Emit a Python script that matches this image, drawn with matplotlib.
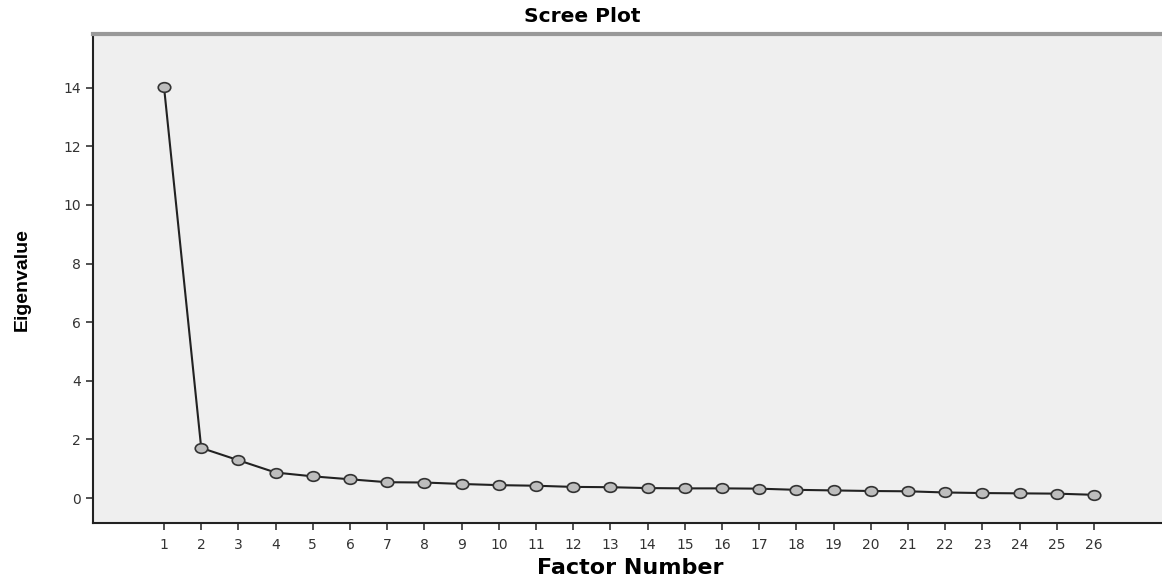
import matplotlib
matplotlib.use("Agg")
import matplotlib.pyplot as plt
from matplotlib.path import Path

factors = list(range(1, 27))
eigenvalues = [14.03, 1.71, 1.29, 0.87, 0.74, 0.64, 0.54, 0.53, 0.48, 0.44,
               0.42, 0.38, 0.37, 0.34, 0.33, 0.33, 0.32, 0.28, 0.26, 0.24,
               0.23, 0.19, 0.17, 0.16, 0.15, 0.11]
yticks = [0, 2, 4, 6, 8, 10, 12, 14]

plt.rcParams["font.family"] = ["DejaVu Sans"]

# slightly flattened circle marker, like the SPSS output
circ = Path.unit_circle()
ellipse = Path(circ.vertices * [1.3, 1.0], circ.codes)

fig = plt.figure(figsize=(11.62, 5.83), dpi=100)
ax = fig.add_axes([0.080, 0.103, 0.920, 0.839])
ax.set_facecolor("#efefef")

ax.plot(factors, eigenvalues, color="#222222", lw=1.5, marker=ellipse, ms=9,
        mfc="#bdbdbd", mec="#333333", mew=1.2)

ax.set_xlim(-0.91, 27.83)
ax.set_ylim(-0.85, 15.84)
ax.set_xticks(factors)
ax.set_yticks(yticks)
ax.tick_params(axis="both", direction="out", length=5, width=1.2,
               labelsize=10, labelcolor="#333333", color="#333333")
ax.tick_params(axis="x", pad=6)

for s in ["left", "bottom"]:
    ax.spines[s].set_color("#222222")
    ax.spines[s].set_linewidth(1.5)
ax.spines["top"].set_color("#999999")
ax.spines["top"].set_linewidth(3)
ax.spines["right"].set_visible(False)

fig.text(582 / 1162, 1 - 16 / 583, "Scree Plot", ha="center", va="center",
         fontsize=14.5, fontweight="bold")
fig.text(630 / 1162, 1 - 568 / 583, "Factor Number", ha="center", va="center",
         fontsize=16, fontweight="bold")
fig.text(22 / 1162, 1 - 280 / 583, "Eigenvalue", ha="center", va="center",
         rotation=90, fontsize=14, fontweight="bold",
         family=["Liberation Sans", "DejaVu Sans"])

fig.savefig("out.png", dpi=100)
